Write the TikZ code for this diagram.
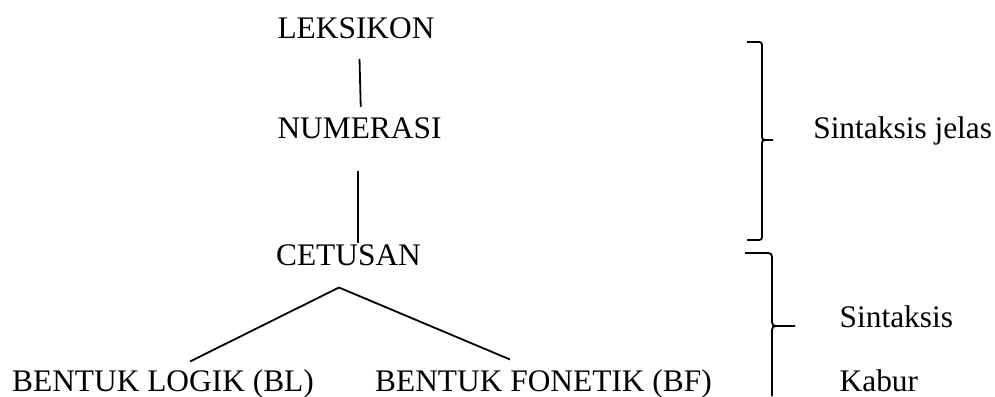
\documentclass[tikz,border=0pt]{standalone}
\usepackage{fontspec}
\setmainfont{Liberation Serif}
\usetikzlibrary{positioning}

\begin{document}
\begin{tikzpicture}[x=0.5pt,y=-0.5pt,line width=0.9pt,
                    word/.style={inner sep=0pt,text height=10.5pt,text depth=0pt,
                                 font=\fontsize{15.7}{18}\selectfont}]
  \useasboundingbox (0,0) rectangle (995,396);
  \node[word] (lek) at (356,27.5) {LEKSIKON};
  \node[word] (num) [below=39pt of lek,xshift=1.75pt] {NUMERASI};
  \node[word] (cet) [below=52pt of num,xshift=-5.5pt] {CETUSAN};
  \node[word] (bl)  [below=51.5pt of cet,xshift=-92.75pt] {BENTUK LOGIK (BL)};
  \node[word] (bf)  [below=51.5pt of cet,xshift=97.5pt] {BENTUK FONETIK (BF)};
  \node[word] (jel) [right=185pt of num] {Sintaksis jelas};
  \node[word] (kab) [right=63pt of bf] {Kabur};
  \node[word] (sin) [above right=20.5pt and 0pt of kab.north west] {Sintaksis};
  \coordinate (top) at ([xshift=-4.75pt,yshift=-10.5pt]cet.south);
  \draw[shorten <=10pt,shorten >=5pt] ([xshift=1.5pt]lek.south) -- ([xshift=0.75pt]num.north);
  \draw[shorten <=15.5pt,shorten >=0.5pt] ([xshift=-0.75pt]num.south) -- ([xshift=-0.75pt]num.south |- cet.north);
  \draw (top) -- ([xshift=13.5pt,yshift=4pt]bl.north);
  \draw (top) -- ([xshift=-16.75pt,yshift=5pt]bf.north);
  % braces
  \draw (747,42) -- (756,42) .. controls (762,42) .. (762,48) -- (762,134)
        .. controls (762,140) .. (768,140) -- (773,140)
        (768,140) .. controls (762,140) .. (762,146) -- (762,234)
        .. controls (762,240) .. (756,240) -- (747,240);
  \draw (745,253) -- (764,253) .. controls (772,253) .. (772,261) -- (772,318)
        .. controls (772,326) .. (780,326) -- (795,326)
        (780,326) .. controls (772,326) .. (772,334) -- (772,396);
\end{tikzpicture}
\end{document}
